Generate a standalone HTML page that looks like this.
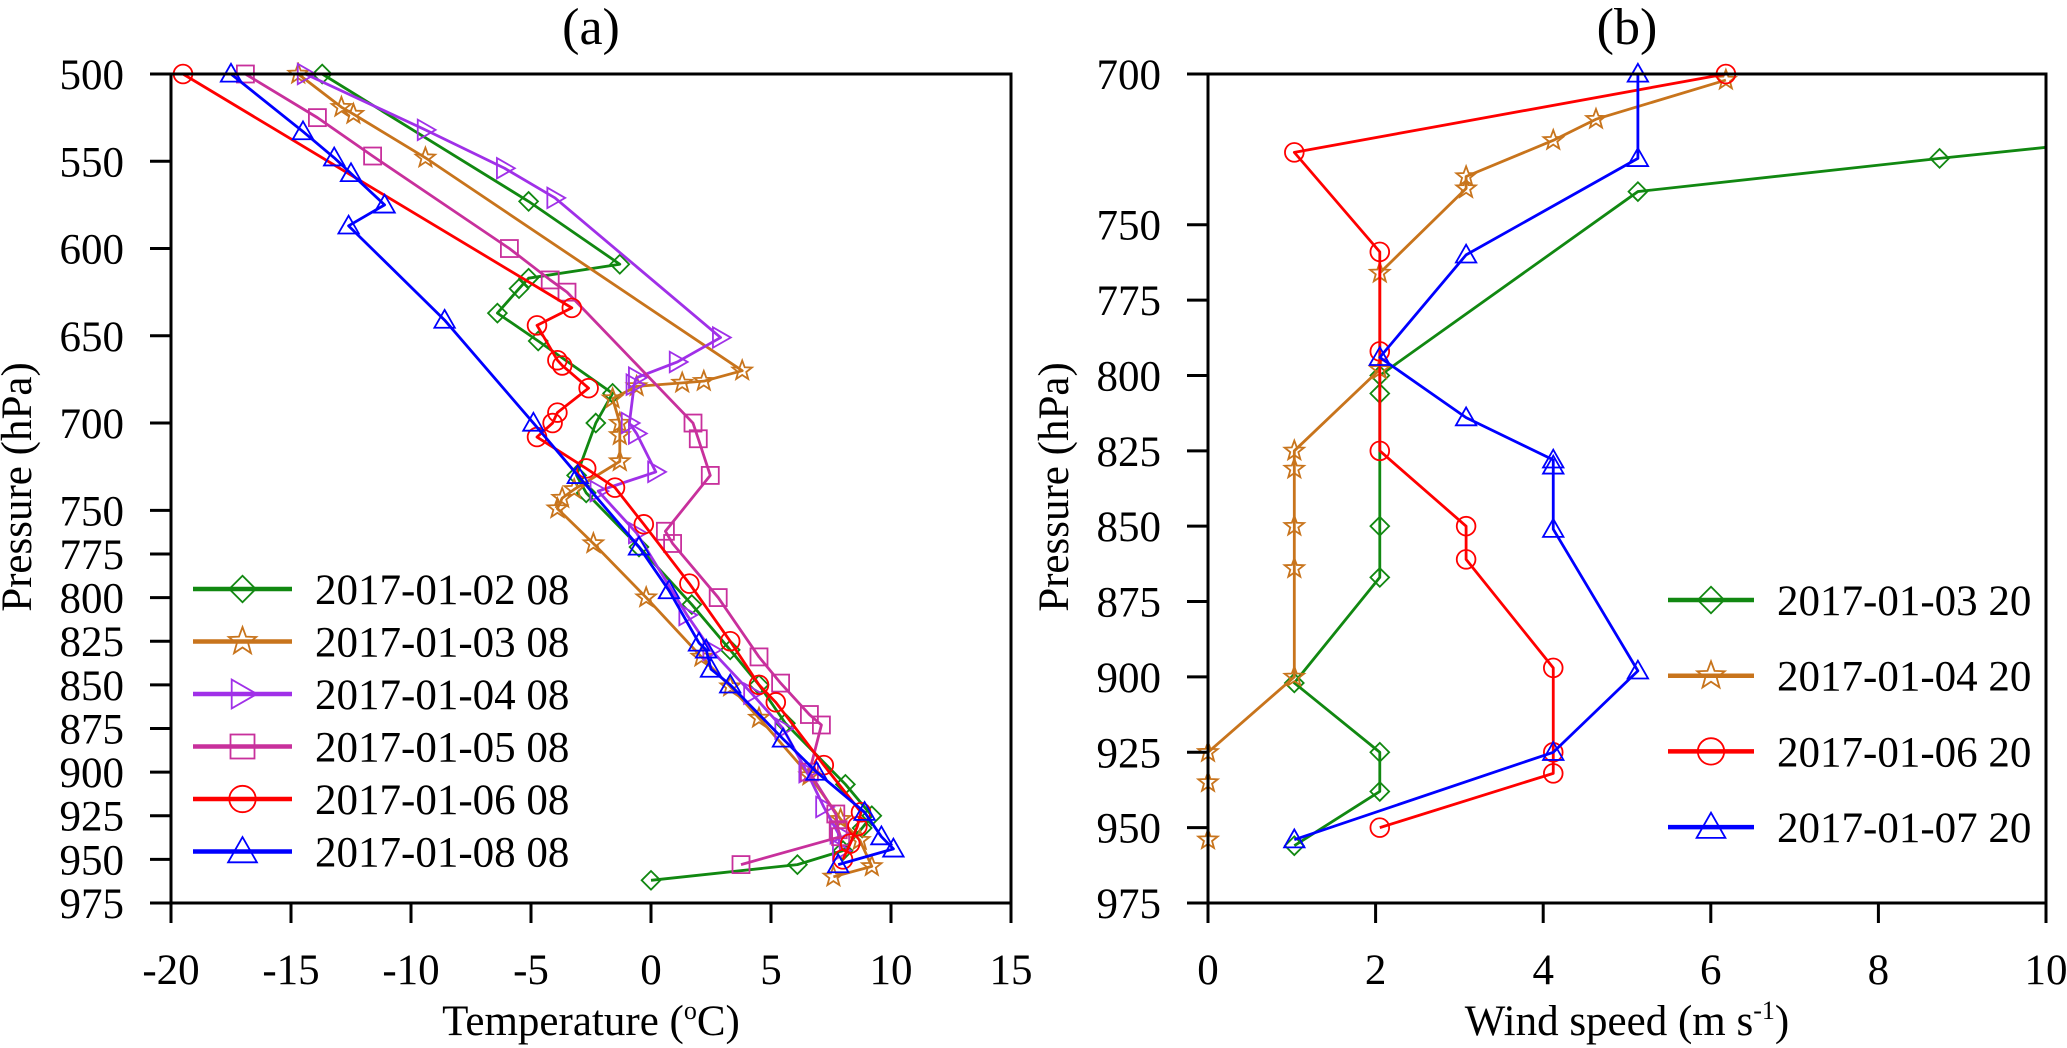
<!DOCTYPE html>
<html><head><meta charset="utf-8"><style>
body{margin:0;background:#fff}
svg{display:block;font-family:"Liberation Serif",serif}
</style></head><body>
<svg id="c" width="2067" height="1048" viewBox="0 0 2067 1048"></svg>
<script>
const tempTicks=[-20,-15,-10,-5,0,5,10,15];
const presTicksA=[500,550,600,650,700,750,775,800,825,850,875,900,925,950,975];
const windTicks=[0,2,4,6,8,10];
const presTicksB=[700,750,775,800,825,850,875,900,925,950,975];
const labelsA=["2017-01-02 08","2017-01-03 08","2017-01-04 08","2017-01-05 08","2017-01-06 08","2017-01-08 08"];
const labelsB=["2017-01-03 20","2017-01-04 20","2017-01-06 20","2017-01-07 20"];
const a1T=[-13.7,-5.1,-1.3,-5.1,-5.5,-6.4,-4.7,-1.6,-2.3,-3.1,-2.7,-0.5,1.7,3.3,4.5,5.6,8.1,9.2,8.8,8.0,6.1,0.0];
const a1P=[500,573,609,617,623,637,653,683,700,730,740,771,804,830,850,872,907,925,932,945,953,962];
const a2T=[-14.7,-12.9,-12.4,-9.4,3.8,2.2,1.3,-0.6,-1.6,-1.3,-1.3,-1.3,-3.2,-3.7,-3.9,-2.4,-0.2,2.1,3.3,4.5,6.6,7.9,8.7,9.2,7.6];
const a2P=[500,519,523,548,670,676,677,679,686,700,707,722,738,743,749,769,800,834,851,869,902,927,939,954,960];
const a3T=[-14.4,-9.4,-6.1,-4.0,2.9,1.1,-0.6,-0.7,-0.9,-0.6,0.2,-2.2,-0.6,1.5,2.5,4.2,5.5,6.5,7.2,7.8,7.9];
const a3P=[500,532,554,571,651,665,674,678,700,706,728,739,763,810,830,855,875,900,920,935,945];
const a4T=[-16.9,-13.9,-11.6,-5.9,-4.2,-3.5,1.75,1.97,2.47,0.6,0.9,2.8,4.5,5.4,6.6,7.1,6.6,7.7,7.8,7.9,3.75];
const a4P=[500,525,547,600,618,625,700,709,730,762,769,800,834,849,867,873,900,924,933,937,953];
const a5T=[-19.5,-3.3,-4.75,-3.9,-3.7,-2.6,-3.9,-4.1,-4.75,-2.7,-1.5,-0.3,1.6,3.3,4.5,5.2,7.2,8.75,8.6,8.3,8.0];
const a5P=[500,634,644,664,667,680,694,700,708,726,737,758,792,825,850,860,896,923,931,941,950];
const a6T=[-17.5,-14.5,-13.2,-12.5,-11.1,-12.6,-8.6,-4.9,-3.05,-0.5,0.75,2.0,2.3,2.5,3.3,5.5,6.9,8.9,9.6,10.1,7.8];
const a6P=[500,533,548,557,575,587,641,700,730,771,796,826,830,841,850,881,900,923,937,944,953];
const b1W=[18.4,8.73,5.13,2.05,2.05,2.05,2.05,1.03,2.05,2.05,1.03];
const b1P=[700,728,739,800,806,850,867,902,925,938,956];
const b2W=[6.18,4.63,4.12,3.08,3.08,2.05,2.05,1.03,1.03,1.03,1.03,1.03,0,0,0];
const b2P=[702,715,722,734,738,766,798,825,831,850,864,900,925,935,954];
const b3W=[6.18,1.03,2.05,2.05,2.05,3.08,3.08,4.12,4.12,4.12,2.05];
const b3P=[700,726,759,792,825,850,861,897,925,932,950];
const b4W=[5.13,5.13,3.08,2.05,3.08,4.12,4.12,4.12,5.13,4.12,1.03];
const b4P=[700,728,760,794,814,828,830,851,898,925,954];

const NS="http://www.w3.org/2000/svg";
const svg=document.getElementById('c');
function mk(tag,attrs,parent){const e=document.createElementNS(NS,tag);for(const k in attrs)e.setAttribute(k,attrs[k]);(parent||svg).appendChild(e);return e;}
const colors=["#118811","#c8741c","#a030e8","#c8309c","#ff0000","#0000ff"];
const shapes=["diamond","star","tri-right","square","circle","tri-up"];
const colorsB=["#118811","#c8741c","#ff0000","#0000ff"];
const shapesB=["diamond","star","circle","tri-up"];

function marker(g,shape,x,y,s,col){
  let e;
  if(shape=="circle")e=mk('circle',{cx:x,cy:y,r:s*0.55},g);
  else if(shape=="square")e=mk('rect',{x:x-s/2,y:y-s/2,width:s,height:s},g);
  else{let pts;
    if(shape=="diamond")pts=[[0,-.55],[.55,0],[0,.55],[-.55,0]];
    else if(shape=="tri-up")pts=[[0,-.6],[.6,.45],[-.6,.45]];
    else if(shape=="tri-right")pts=[[.6,0],[-.45,-.6],[-.45,.6]];
    else{pts=[];for(let i=0;i<10;i++){const r=i%2?0.25:0.6,a=-Math.PI/2+i*Math.PI/5;pts.push([r*Math.cos(a),r*Math.sin(a)]);}}
    e=mk('polygon',{points:pts.map(p=>(x+p[0]*s)+','+(y+p[1]*s)).join(' ')},g);}
  e.setAttribute('fill','none');e.setAttribute('stroke',col);e.setAttribute('stroke-width',1.8);
  return e;
}

function panel(o){
  const g=mk('g',{});
  
  
  const X=v=>o.x0+(v-o.xmin)/(o.xmax-o.xmin)*(o.x1-o.x0);
  const Y=p=>o.y0+(p-o.pmin)/(o.pmax-o.pmin)*(o.y1-o.y0);
  const cid='clip'+o.name;
  const cp=mk('clipPath',{id:cid},g);mk('rect',{x:o.x0-12,y:o.y0-12,width:o.x1-o.x0+12,height:o.y1-o.y0+24},cp);
  const sg=mk('g',{'clip-path':'url(#'+cid+')'},g);
  o.series.forEach((s,i)=>{
    const sgi=mk('g',{},sg);
    
    
    const pl=mk('polyline',{points:s[0].map((v,j)=>X(v)+','+Y(s[1][j])).join(' '),fill:'none',stroke:o.colors[i],'stroke-width':2.8,'stroke-linejoin':'round'},sgi);
    
    
    s[0].forEach((v,j)=>{const m=marker(sgi,o.shapes[i],X(v),Y(s[1][j]),17,o.colors[i]);
      
      });
  });
  const fr=mk('rect',{x:o.x0,y:o.y0,width:o.x1-o.x0,height:o.y1-o.y0,fill:'none',stroke:'#000','stroke-width':3},g);
  
  
  o.xt.forEach(v=>{const x=X(v);mk('line',{x1:x,x2:x,y1:o.y1,y2:o.y1+20,stroke:'#000','stroke-width':3},g);
    const t=mk('text',{x:x,y:o.y1+81,'text-anchor':'middle','font-size':43},g);t.textContent=v;
    
    });
  o.yt.forEach(p=>{const y=Y(p);mk('line',{x1:o.x0-21,x2:o.x0,y1:y,y2:y,stroke:'#000','stroke-width':3},g);
    const t=mk('text',{x:o.x0-47,y:y+15,'text-anchor':'end','font-size':43},g);t.textContent=p;
    
    });
  const ti=mk('text',{x:(o.x0+o.x1)/2+o.tdx,y:44,'text-anchor':'middle','font-size':52},g);ti.textContent=o.title;
  
  
  const yl=mk('text',{x:0,y:0,transform:'translate('+(o.x0-140)+',487) rotate(-90)','text-anchor':'middle','font-size':43},g);yl.textContent='Pressure (hPa)';
  
  
  const xl=mk('text',{x:(o.x0+o.x1)/2+o.tdx,y:1035,'text-anchor':'middle','font-size':43},g);xl.innerHTML=o.xlabel;
  
  
  o.labels.forEach((l,i)=>{const y=o.ly0+i*o.ldy;
    const lg=mk('g',{},g);
    
    
    mk('line',{x1:o.lx,x2:o.lx+o.lw,y1:y,y2:y,stroke:o.colors[i],'stroke-width':4.5},lg);
    marker(lg,o.shapes[i],o.lx+o.lw/2,y,24,o.colors[i]);
    const t=mk('text',{x:o.lx+o.lw+23,y:y+15,'font-size':43},lg);t.textContent=l;});
}
panel({name:'panel-a-temperature',x0:171,x1:1011,y0:74,y1:903,xmin:-20,xmax:15,pmin:500,pmax:975,xt:tempTicks,yt:presTicksA,
  series:[[a1T,a1P],[a2T,a2P],[a3T,a3P],[a4T,a4P],[a5T,a5P],[a6T,a6P]],colors:colors,shapes:shapes,labels:labelsA,
  title:'(a)',tdx:0,xlabel:'Temperature (<tspan font-size="26" dy="-16">o</tspan><tspan dy="16">C)</tspan>',lx:193,lw:99,ly0:589,ldy:52.5});
panel({name:'panel-b-wind',x0:1208,x1:2046,y0:74,y1:903,xmin:0,xmax:10,pmin:700,pmax:975,xt:windTicks,yt:presTicksB,
  series:[[b1W,b1P],[b2W,b2P],[b3W,b3P],[b4W,b4P]],colors:colorsB,shapes:shapesB,labels:labelsB,
  title:'(b)',tdx:0,xlabel:'Wind speed (m s<tspan font-size="26" dy="-16">-1</tspan><tspan dy="16">)</tspan>',lx:1668,lw:86,ly0:600,ldy:75.7});
</script>
</body></html>
